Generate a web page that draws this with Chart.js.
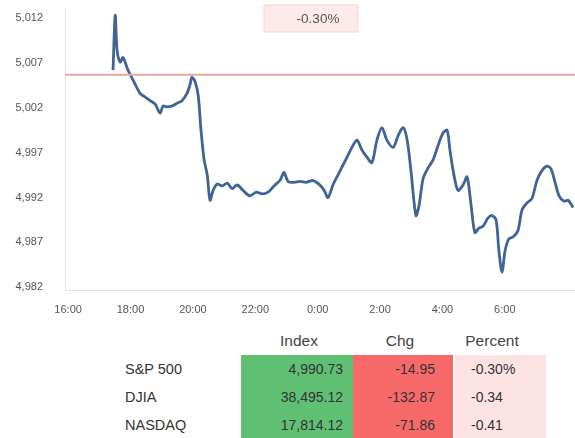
<!DOCTYPE html>
<html>
<head>
<meta charset="utf-8">
<script src="https://cdn.jsdelivr.net/npm/chart.js@4.4.1/dist/chart.umd.min.js"></script>
<style>
    body { margin: 0; background: #fff; font-family: "Liberation Sans", Arial, sans-serif; }
    #wrap { position: relative; width: 575px; height: 438px; overflow: hidden; }
    #grafico { position: absolute; left: 0; top: 0; }
    .celda { position: absolute; height: 28px; line-height: 28px; font-size: 14px; color: #333; box-sizing: border-box; }
    .cab { position: absolute; font-size: 15.5px; color: #444; text-align: center; }
    .nombre { position: absolute; font-size: 14.5px; color: #333; line-height: 28px; }
</style>
</head>
<body>
<div id="wrap">
    <canvas id="grafico" width="575" height="320"></canvas>
    <div id="tabla"></div>
</div>
<script>
// horas desde las 16:00
const horas = [1.44, 1.51, 1.57, 1.67, 1.76, 1.92, 2.08, 2.21, 2.31, 2.47, 2.63, 2.79, 2.95, 3.04, 3.17, 3.33,
    3.49, 3.65, 3.81, 3.91, 3.97, 4.07, 4.17, 4.26, 4.36, 4.46, 4.55, 4.65, 4.78, 4.94, 5.10, 5.26, 5.42,
    5.61, 5.83, 6.03, 6.22, 6.41, 6.60, 6.79, 6.92, 7.05, 7.24, 7.44, 7.63, 7.85, 8.04, 8.21, 8.33, 8.49,
    8.65, 8.81, 8.97, 9.13, 9.26, 9.42, 9.58, 9.74, 9.90, 10.06, 10.22, 10.42, 10.58, 10.74, 10.87, 10.99,
    11.15, 11.25, 11.38, 11.54, 11.70, 11.86, 12.02, 12.15, 12.24, 12.37, 12.50, 12.66, 12.79, 12.92, 13.04,
    13.17, 13.30, 13.46, 13.59, 13.72, 13.81, 13.91, 14.01, 14.13, 14.26, 14.42, 14.55, 14.71, 14.87, 15.03,
    15.19, 15.35, 15.48, 15.61, 15.74, 15.90, 16.03, 16.19];
const precios = [5006.2, 5012.3, 5008.4, 5007.1, 5007.6, 5006.2, 5005.1, 5004.2, 5003.6, 5003.2, 5002.8, 5002.4,
    5001.4, 5002.2, 5002.1, 5002.2, 5002.5, 5002.8, 5003.6, 5004.6, 5005.4, 5004.9, 5003.4, 4999.5, 4996.2,
    4994.5, 4991.7, 4992.8, 4993.5, 4993.3, 4993.6, 4993.0, 4993.4, 4992.8, 4992.2, 4992.6, 4992.4, 4992.6,
    4993.3, 4993.9, 4994.8, 4993.8, 4993.7, 4993.8, 4993.7, 4993.9, 4993.5, 4992.8, 4992.0, 4993.4, 4994.5,
    4995.6, 4996.7, 4997.8, 4998.4, 4997.3, 4996.5, 4995.9, 4998.4, 4999.8, 4998.4, 4997.6, 4998.9, 4999.8,
    4998.4, 4995.0, 4990.0, 4991.1, 4994.1, 4995.3, 4996.2, 4997.8, 4999.2, 4999.5, 4997.3, 4994.5, 4992.8,
    4993.4, 4994.3, 4991.1, 4988.1, 4988.6, 4988.8, 4989.7, 4990.0, 4989.5, 4986.1, 4983.7, 4986.1, 4987.4,
    4987.6, 4988.3, 4990.6, 4991.4, 4991.9, 4993.9, 4995.0, 4995.5, 4995.2, 4993.7, 4992.2, 4991.6, 4991.7,
    4990.9];
const cierreAnterior = 5005.68;
const etiquetaCambio = "-0.30%";

const ticksY = [4982, 4987, 4992, 4997, 5002, 5007, 5012];
const ticksX = [0, 2, 4, 6, 8, 10, 12, 14];
const etiquetasX = ["16:00", "18:00", "20:00", "22:00", "0:00", "2:00", "4:00", "6:00"];

const indices = ["S&P 500", "DJIA", "NASDAQ"];
const valores = ["4,990.73", "38,495.12", "17,814.12"];
const cambios = ["-14.95", "-132.87", "-71.86"];
const porcentajes = ["-0.30%", "-0.34", "-0.41"];

const xMin = -0.1, xMax = 16.25;

// caja con el porcentaje arriba
const cajaCambio = {
    id: "cajaCambio",
    afterDraw(chart) {
        const ctx = chart.ctx;
        ctx.save();
        ctx.fillStyle = "#fdeaea";
        ctx.strokeStyle = "#f6d4d4";
        ctx.fillRect(264, 5, 94, 27);
        ctx.strokeRect(264, 5, 94, 27);
        ctx.fillStyle = "#555";
        ctx.font = "13.5px 'Liberation Sans', Arial, sans-serif";
        ctx.textAlign = "center";
        ctx.textBaseline = "middle";
        ctx.fillText(etiquetaCambio, 318, 19);
        ctx.restore();
    }
};

function cargaGrafico() {
    const serie = horas.map((h, i) => ({ x: h, y: precios[i] }));
    const linea = [{ x: xMin, y: cierreAnterior }, { x: xMax, y: cierreAnterior }];

    new Chart(document.getElementById("grafico").getContext("2d"), {
        type: "line",
        data: {
            datasets: [
                { data: linea, borderColor: "#eaa5a5", borderWidth: 2, pointRadius: 0 },
                { data: serie, borderColor: "#3f6496", borderWidth: 2.8, pointRadius: 0, tension: 0.3 }
            ]
        },
        options: {
            responsive: false,
            animation: false,
            layout: { padding: { top: 10, right: 0, left: 0, bottom: 0 } },
            plugins: { legend: { display: false }, tooltip: { enabled: false } },
            scales: {
                x: {
                    type: "linear",
                    min: xMin,
                    max: xMax,
                    grid: { display: false },
                    border: { color: "#e4e4e4", width: 1 },
                    afterBuildTicks: (axis) => { axis.ticks = ticksX.map(v => ({ value: v })); },
                    afterFit: (axis) => { axis.height = 30; axis.paddingLeft = 0; axis.paddingRight = 0; },
                    ticks: {
                        color: "#555",
                        font: { size: 11, family: "'Liberation Sans', Arial" },
                        maxRotation: 0,
                        padding: 5,
                        callback: (v) => etiquetasX[ticksX.indexOf(v)]
                    }
                },
                y: {
                    min: 4981.7,
                    max: 5012.9,
                    grid: { display: false },
                    border: { color: "#e4e4e4", width: 1 },
                    afterBuildTicks: (axis) => { axis.ticks = ticksY.map(v => ({ value: v })); },
                    afterFit: (axis) => { axis.width = 65; axis.paddingTop = 0; axis.paddingBottom = 0; },
                    ticks: {
                        color: "#555",
                        font: { size: 11, family: "'Liberation Sans', Arial" },
                        padding: 14,
                        callback: (v) => v.toLocaleString("en-US")
                    }
                }
            }
        },
        plugins: [cajaCambio]
    });
}

function cargaTabla() {
    const tabla = document.getElementById("tabla");
    const cols = [
        { x: 241, w: 112, color: "#5fbf73", datos: valores, cab: "Index", cabX: 299, alin: "right", pad: "0 10px 0 0" },
        { x: 353, w: 100, color: "#f86a6a", datos: cambios, cab: "Chg", cabX: 400, alin: "right", pad: "0 18px 0 0" },
        { x: 455, w: 91, color: "#fde3e3", datos: porcentajes, cab: "Percent", cabX: 492, alin: "left", pad: "0 0 0 16px" }
    ];
    let html = "";
    cols.forEach((c) => {
        html += `<div class="cab" style="left:${c.cabX - 50}px;top:332px;width:100px">${c.cab}</div>`;
        c.datos.forEach((d, i) => {
            html += `<div class="celda" style="left:${c.x}px;top:${355 + i * 28}px;width:${c.w}px;` +
                `background:${c.color};text-align:${c.alin};padding:${c.pad}">${d}</div>`;
        });
    });
    indices.forEach((n, i) => {
        html += `<div class="nombre" style="left:125px;top:${355 + i * 28}px">${n.replace("&", "&amp;")}</div>`;
    });
    tabla.innerHTML = html;
}

cargaGrafico();
cargaTabla();
</script>
</body>
</html>
